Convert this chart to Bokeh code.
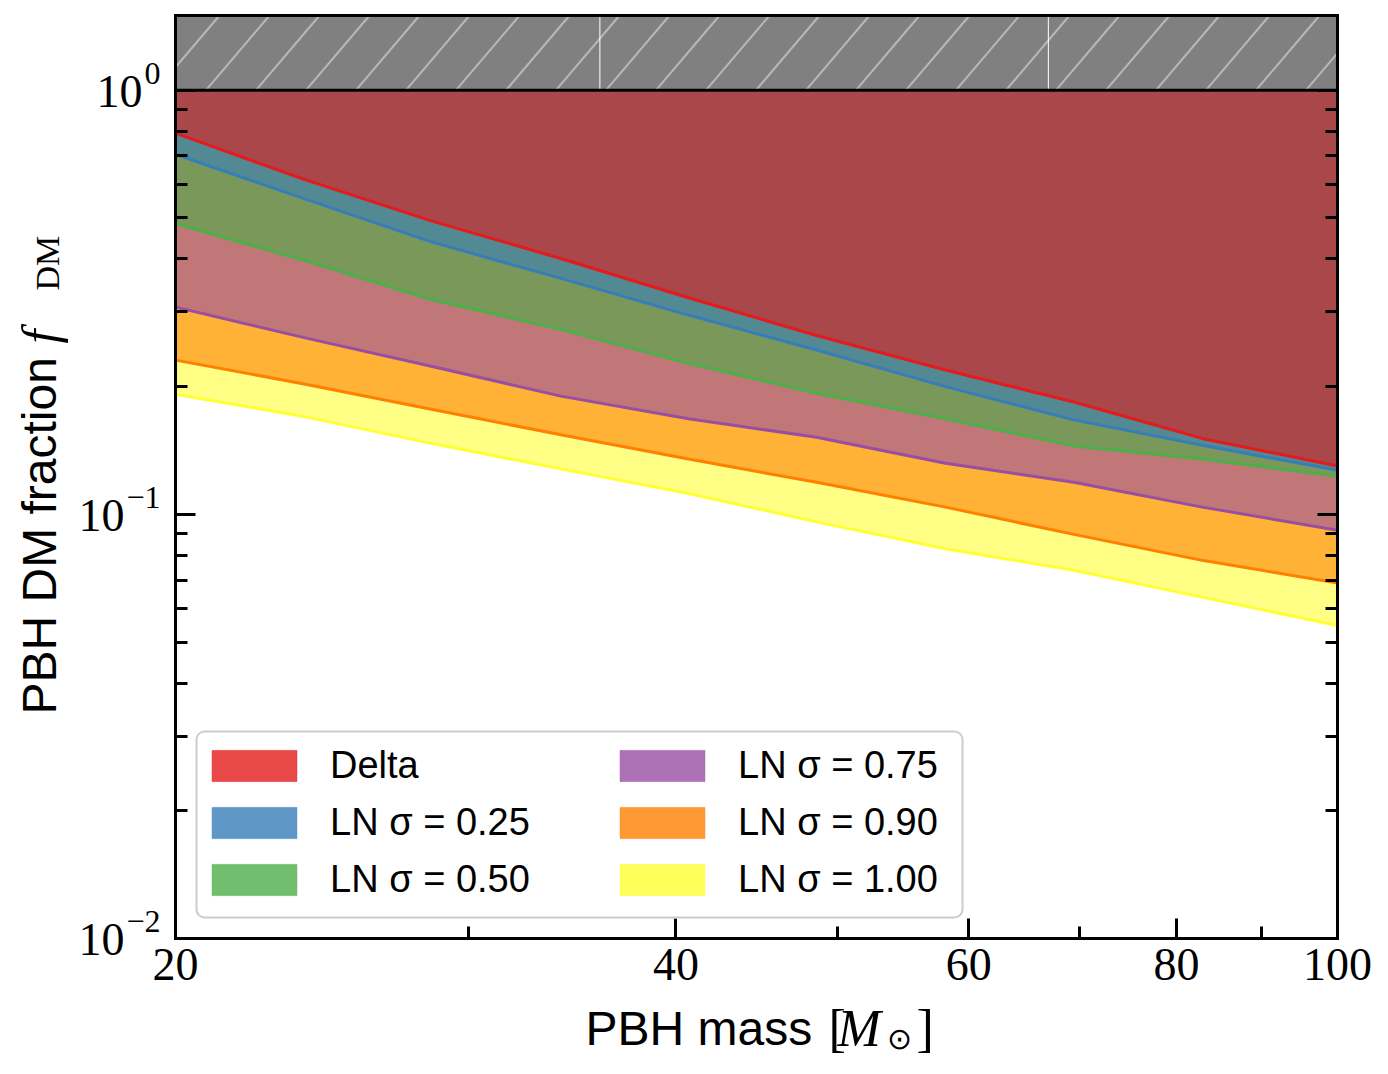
from math import pi, log10

import numpy as np
from bokeh.plotting import figure
from bokeh.models import (ColumnDataSource, FixedTicker, LogAxis, Legend, LegendItem,
                          Label, BoxAnnotation, Range1d, NumeralTickFormatter)
from bokeh.embed import file_html
from bokeh.resources import INLINE

# PBH mass grid [solar masses]
mass = [20.0, 23.9, 28.5, 34.1, 40.7, 48.6, 58.1, 69.4, 82.9, 100.0]

# Upper bounds on the PBH dark-matter fraction for each mass function
f_delta = [0.792, 0.616, 0.492, 0.401, 0.324, 0.264, 0.219, 0.184, 0.151, 0.130]
f_ln025 = [0.706, 0.555, 0.439, 0.360, 0.295, 0.244, 0.200, 0.167, 0.1455, 0.127]
f_ln050 = [0.485, 0.397, 0.321, 0.273, 0.227, 0.193, 0.168, 0.145, 0.135, 0.123]
f_ln075 = [0.308, 0.261, 0.2235, 0.190, 0.168, 0.152, 0.132, 0.119, 0.104, 0.0917]
f_ln090 = [0.231, 0.203, 0.177, 0.154, 0.135, 0.119, 0.104, 0.0897, 0.0779, 0.0689]
f_ln100 = [0.192, 0.170, 0.147, 0.128, 0.112, 0.096, 0.083, 0.0738, 0.0638, 0.0547]

labels = ["Delta", "LN σ = 0.25", "LN σ = 0.50", "LN σ = 0.75", "LN σ = 0.90", "LN σ = 1.00"]
bounds = [f_delta, f_ln025, f_ln050, f_ln075, f_ln090, f_ln100]
colors = ["#e41a1c", "#377eb8", "#4daf4a", "#984ea3", "#ff7f00", "#ffff33"]

# axis settings
x_lo, x_hi = 20.0, 100.0
y_lo, y_hi = 0.01, 1.5
f_max = 1.0                      # f_DM cannot exceed unity
x_major = [20, 40, 60, 80, 100]
x_minor = [30, 50, 70, 90]
y_major = [0.01, 0.1, 1.0]
y_exponents = ["−2", "−1", "0"]
y_minor = [0.02, 0.03, 0.04, 0.05, 0.06, 0.07, 0.08, 0.09,
           0.2, 0.3, 0.4, 0.5, 0.6, 0.7, 0.8, 0.9]
hatch_seams = [36.0, 67.0]

SANS = "Liberation Sans"
SERIF = "Liberation Serif"

# canvas size and the margins around the axes box (pixels)
W, H = 1388, 1074
M_LEFT, M_RIGHT, M_TOP, M_BOTTOM = 175, 51, 15, 136
box_w = W - M_LEFT - M_RIGHT
box_h = H - M_TOP - M_BOTTOM

# The frame fills the whole canvas so that titles in the margins are not clipped;
# the axes sit at fixed data positions on the edges of the [x_lo,x_hi]x[y_lo,y_hi] box.
dec_x = log10(x_hi / x_lo) / box_w          # decades per pixel
dec_y = log10(y_hi / y_lo) / box_h
view_x = Range1d(x_lo * 10 ** (-M_LEFT * dec_x), x_hi * 10 ** (M_RIGHT * dec_x))
view_y = Range1d(y_lo * 10 ** (-M_BOTTOM * dec_y), y_hi * 10 ** (M_TOP * dec_y))

p = figure(width=W, height=H, x_axis_type="log", y_axis_type="log",
           x_range=view_x, y_range=view_y,
           output_backend="svg", toolbar_location=None, min_border=0)
p.grid.visible = False
p.outline_line_color = None

# excluded-region fills, weakest bound first so the stronger ones stack on top
ones = [f_max] * len(mass)
for vals, col in reversed(list(zip(bounds, colors))):
    p.varea(x=mass, y1=vals, y2=ones, fill_color=col, fill_alpha=0.6)
    p.line(x=mass, y=vals, line_color=col, line_width=3)

# unphysical region f_DM > 1 with diagonal hatching laid out in pixel space
p.quad(left=[x_lo], right=[x_hi], bottom=[f_max], top=[y_hi], fill_color="#808080",
       line_color=None)
band_h = log10(y_hi / f_max) / dec_y
run = 0.85 * band_h
starts = np.arange(-6.0 - run, box_w, 50.0)
t0 = np.clip(-starts / run, 0.0, 1.0)
t1 = np.clip((box_w - starts) / run, 0.0, 1.0)
keep = t1 > t0
starts, t0, t1 = starts[keep], t0[keep], t1[keep]
p.segment(x0=x_lo * 10 ** ((starts + t0 * run) * dec_x), y0=f_max * 10 ** (t0 * band_h * dec_y),
          x1=x_lo * 10 ** ((starts + t1 * run) * dec_x), y1=f_max * 10 ** (t1 * band_h * dec_y),
          line_color="#b8b8b8", line_width=2)
p.segment(x0=hatch_seams, y0=[f_max] * 2, x1=hatch_seams, y1=[y_hi] * 2,
          line_color="white", line_width=1)
p.line(x=[x_lo, x_hi], y=[f_max, f_max], line_color="black", line_width=3)
p.line(x=[x_lo, x_hi], y=[y_hi, y_hi], line_color="black", line_width=3, line_cap="square")

# axes
xa = p.xaxis[0]
xa.fixed_location = y_lo
xa.bounds = (x_lo, x_hi)
xa.ticker = FixedTicker(ticks=x_major, minor_ticks=x_minor)
xa.formatter = NumeralTickFormatter(format="0")
xa.major_label_text_font = SERIF
xa.major_label_text_font_size = "46px"
xa.major_label_text_color = "black"
xa.major_label_standoff = 10

ya = p.yaxis[0]
ya.fixed_location = x_lo
ya.bounds = (y_lo, y_hi)
ya.ticker = FixedTicker(ticks=y_major, minor_ticks=y_minor)

yr = LogAxis(ticker=FixedTicker(ticks=y_major, minor_ticks=y_minor),
             fixed_location=x_hi, bounds=(y_lo, y_hi))
p.add_layout(yr, "right")

for ax in (ya, yr):
    # the 10^n labels on the left are drawn separately below
    ax.formatter = NumeralTickFormatter(format="0")
    ax.major_label_text_font_size = "10px"
    ax.major_label_text_alpha = 0.0

for ax in (xa, ya, yr):
    ax.axis_line_width = 3
    ax.axis_line_color = "black"
    ax.axis_line_cap = "square"
    ax.major_tick_in = 20
    ax.major_tick_out = 0
    ax.minor_tick_in = 12
    ax.minor_tick_out = 0
    ax.major_tick_line_width = 3
    ax.minor_tick_line_width = 3
    ax.major_tick_line_color = "black"
    ax.minor_tick_line_color = "black"


def add_text(text, x, y, dx, dy, font, size, style="normal", angle=0.0, align="left"):
    """Text anchored at a data point and shifted by (dx, dy) pixels."""
    p.add_layout(Label(x=x, y=y, x_offset=dx, y_offset=dy, text=text,
                       angle=angle, text_align=align, text_baseline="alphabetic",
                       text_font=font, text_font_size=f"{size}px",
                       text_font_style=style, text_color="black"))


# y tick labels 10^n built from a base and a raised exponent
EXP_SIZE = 32
for val, ex in zip(y_major, y_exponents):
    w = sum(0.56 * EXP_SIZE if ch == "−" else 0.5 * EXP_SIZE for ch in ex)
    add_text(ex, x_lo, val, -15, 17, SERIF, EXP_SIZE, align="right")
    add_text("10", x_lo, val, -17 - w, -1, SERIF, 46, align="right")

# axis titles, offsets measured from the lower-left corner of the axes box
add_text("PBH mass", x_lo, y_lo, 410, -90, SANS, 48)
add_text("[", x_lo, y_lo, 653, -90, SERIF, 52)
add_text("M", x_lo, y_lo, 662, -90, SERIF, 52, style="italic")
add_text("⊙", x_lo, y_lo, 711, -100, SERIF, 30)
add_text("]", x_lo, y_lo, 741, -90, SERIF, 52)

add_text("PBH DM fraction", x_lo, y_lo, -136, 224, SANS, 48, angle=pi / 2)
add_text("f", x_lo, y_lo, -136, 595, SERIF, 50, style="italic", angle=pi / 2)
add_text("DM", x_lo, y_lo, -128, 648, SERIF, 34, angle=pi / 2)

# legend: rounded frame plus two columns of swatches (pixels from the axes box corner)
box = BoxAnnotation(left=M_LEFT + 21, right=M_LEFT + 787,
                    bottom=M_BOTTOM + 21, top=M_BOTTOM + 207,
                    left_units="screen", right_units="screen",
                    top_units="screen", bottom_units="screen",
                    fill_color="white", fill_alpha=0.8,
                    line_color="#cccccc", line_width=2, line_alpha=1.0)
if "border_radius" in BoxAnnotation.properties():
    box.border_radius = 8
p.add_layout(box)

# legend proxies: a single degenerate quad at the box corner carries each style
proxy = ColumnDataSource(data=dict(left=[x_lo], right=[x_lo], top=[y_lo], bottom=[y_lo]))
swatches = [p.quad(left="left", right="right", top="top", bottom="bottom", source=proxy,
                   fill_color=c, fill_alpha=0.8, line_color=c, line_alpha=0.5, line_width=1)
            for c in colors]


def make_legend(idx, loc):
    items = [LegendItem(label=labels[i], renderers=[swatches[i]]) for i in idx]
    leg = Legend(items=items, location=loc, orientation="vertical",
                 glyph_width=106, glyph_height=39, label_standoff=23, spacing=14,
                 padding=0, margin=0, border_line_color=None, background_fill_alpha=0,
                 label_text_font=SANS, label_text_font_size="38px",
                 label_text_color="black")
    p.add_layout(leg, "center")


make_legend([0, 1, 2], (M_LEFT + 26, M_BOTTOM + 37))
make_legend([3, 4, 5], (M_LEFT + 434, M_BOTTOM + 37))

open("out.html", "w").write(file_html(p, INLINE, title="PBH DM fraction bounds"))
